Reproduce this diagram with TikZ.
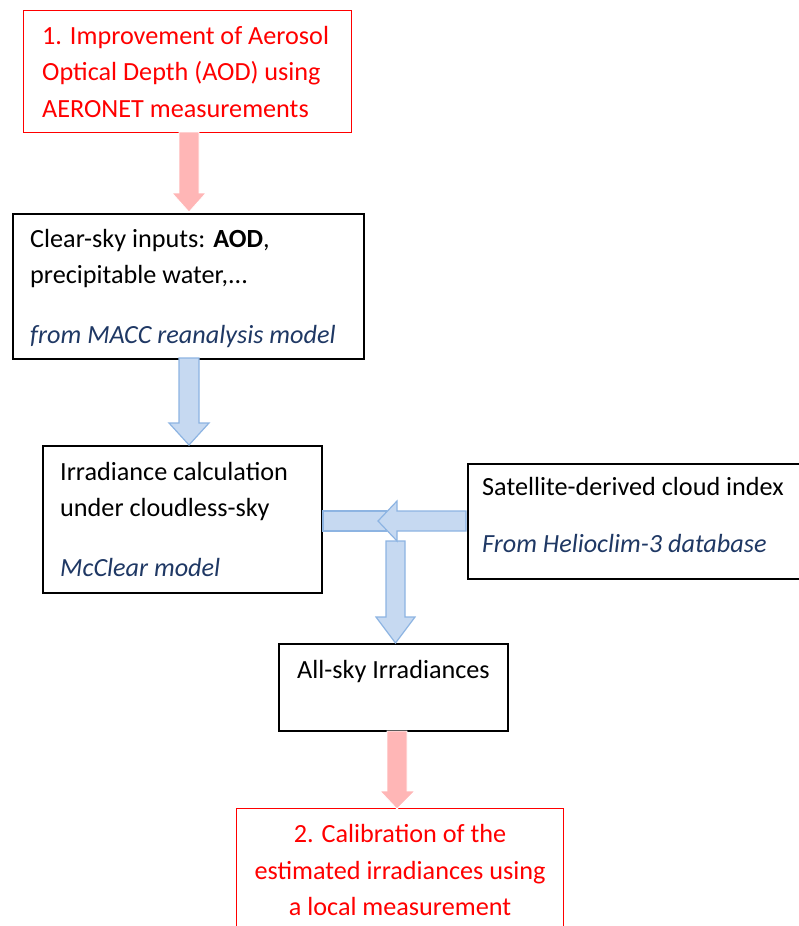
\documentclass[tikz,border=0pt]{standalone}
\usepackage{fontspec}
\setmainfont{Carlito}
\definecolor{darkblue}{RGB}{31,56,100}
\definecolor{pinkfill}{RGB}{255,182,182}
\definecolor{bluefill}{RGB}{198,217,241}
\definecolor{bluedraw}{RGB}{141,180,226}
\definecolor{myred}{RGB}{255,0,0}
\begin{document}
\begin{tikzpicture}[x=1pt,y=-1pt,
  blackbox/.style={draw=black,line width=1.5pt,inner sep=0pt,anchor=north west},
  redbox/.style={draw=myred,line width=1.4pt,inner sep=0pt,anchor=north west},
  txt/.style={anchor=base west,inner sep=0pt,font=\fontsize{26.2}{32}\selectfont},
  ctxt/.style={anchor=base,inner sep=0pt,font=\fontsize{26.2}{32}\selectfont},
  note/.style={txt,font=\fontsize{26.2}{32}\selectfont\itshape,text=darkblue},
  pinkarrow/.style={fill=pinkfill,draw=white,line width=0.8pt},
  bluearrow/.style={fill=bluefill,draw=bluedraw,line width=1.2pt,line join=miter}]
\useasboundingbox (0,0) rectangle (798,926);

% boxes
\node[redbox,minimum width=328pt,minimum height=122pt] (b1) at (23,10) {};
\node[blackbox,minimum width=351pt,minimum height=145pt] (b2) at (12,213) {};
\node[blackbox,minimum width=279pt,minimum height=147pt] (b3) at (42,445) {};
\node[blackbox,minimum width=345pt,minimum height=115pt] (b4) at (467,463) {};
\node[blackbox,minimum width=229pt,minimum height=87pt] (b5) at (278,643) {};
\node[redbox,minimum width=327pt,minimum height=140pt] (b6) at (236,808) {};

% texts
\node[txt,text=myred] (t1a) at (42,44) {1. Improvement of Aerosol};
\node[txt,text=myred] (t1b) at (42,80) {Optical Depth (AOD) using};
\node[txt,text=myred] (t1c) at (42,117) {AERONET measurements};

\node[txt] (t2a) at (30,247) {Clear-sky inputs: \textbf{AOD},};
\node[txt] (t2b) at (30,283) {precipitable water,...};
\node[note] (t2c) at (30,343) {from MACC reanalysis model};

\node[txt] (t3a) at (60,480) {Irradiance calculation};
\node[txt] (t3b) at (60,516) {under cloudless-sky};
\node[note] (t3c) at (60,576) {McClear model};

\node[txt] (t4a) at (482,495) {Satellite-derived cloud index};
\node[note] (t4b) at (482,552) {From Helioclim-3 database};

\node[txt] (t5a) at (297,678) {All-sky Irradiances};

\node[ctxt,text=myred] (t6a) at (400,842) {2. Calibration of the};
\node[ctxt,text=myred] (t6b) at (400,879) {estimated irradiances using};
\node[ctxt,text=myred] (t6c) at (400,915) {a local measurement};

% arrow 1 (pink) b1 -> b2
\draw[pinkarrow] (179,132) -- (199,132) -- (199,193) -- (206,193) -- (189,212)
  -- (172,193) -- (179,193) -- cycle;
% arrow 2 (blue) b2 -> b3
\draw[bluearrow] (179,358) -- (199,358) -- (199,423) -- (209,423) -- (189,445)
  -- (169,423) -- (179,423) -- cycle;
% bar from b3
\draw[bluearrow] (323,511) rectangle (386,531);
% down arrow to b5
\draw[bluearrow] (386,541) -- (405,541) -- (405,617) -- (415,617) -- (395.5,643)
  -- (376,617) -- (386,617) -- cycle;
% left arrow from b4
\draw[bluearrow] (466,511) -- (397,511) -- (397,501) -- (378,521) -- (397,541)
  -- (397,531) -- (466,531) -- cycle;
% arrow 5 (pink) b5 -> b6
\draw[pinkarrow] (387,731) -- (407,731) -- (407,791) -- (415,791) -- (397,809)
  -- (380,791) -- (387,791) -- cycle;
\end{tikzpicture}
\end{document}
